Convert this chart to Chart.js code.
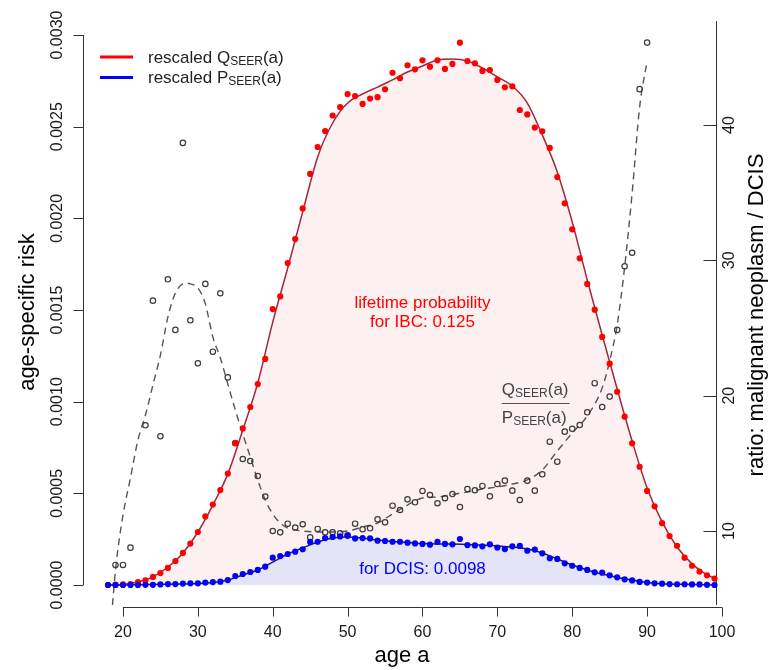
<!DOCTYPE html>
<html>
<head>
<meta charset="utf-8">
<script src="https://cdn.jsdelivr.net/npm/chart.js@4.4.1/dist/chart.umd.min.js"></script>
<style>
  body { margin: 0; background: #fff; }
  #wrap { width: 768px; height: 670px; position: relative; }
</style>
</head>
<body>
<div id="wrap"><canvas id="riskChart"></canvas></div>
<script>
// ages 18..99, one value per year
var ages = [18,19,20,21,22,23,24,25,26,27,28,29,30,31,32,33,34,35,36,37,38,39,40,41,42,43,44,45,46,47,48,49,50,51,52,53,54,55,56,57,58,59,
  60,61,62,63,64,65,66,67,68,69,70,71,72,73,74,75,76,77,78,79,80,81,82,83,84,85,86,87,88,89,90,91,92,93,94,95,96,97,98,99];

// rescaled Q_SEER(a) - red dots
var qSeer = [0,0.000002,0.000003,0.000005,0.000016,0.000025,0.000044,0.000065,0.000093,0.000131,0.000175,0.000226,
  0.000289,0.000374,0.000439,0.000518,0.000608,0.000775,0.000854,0.000971,0.001096,0.001233,
  0.001505,0.001574,0.001756,0.001887,0.002054,0.002242,0.002389,0.002476,0.002561,0.002607,
  0.002678,0.002667,0.002624,0.002653,0.002661,0.002704,0.002794,0.002764,0.002835,0.002813,
  0.002862,0.002827,0.002862,0.002815,0.002842,0.002958,0.002858,0.002846,0.002804,0.002809,
  0.002755,0.002715,0.002720,0.002591,0.002567,0.002495,0.002475,0.002384,0.002225,0.002082,
  0.001940,0.001782,0.001642,0.001502,0.001353,0.001207,0.001054,0.000918,0.000773,0.000645,
  0.000513,0.000429,0.000337,0.000267,0.000214,0.000149,0.000105,0.000073,0.000053,0.000035];

// rescaled P_SEER(a) - blue dots
var pSeer = [0,0,0,0,0,0.000001,0.000001,0.000003,0.000005,0.000005,0.000008,0.000009,
  0.000009,0.000013,0.000016,0.000018,0.000027,0.000049,0.000060,0.000071,0.000082,0.000100,
  0.000149,0.000158,0.000169,0.000182,0.000195,0.000235,0.000236,0.000256,0.000262,0.000265,
  0.000269,0.000254,0.000256,0.000254,0.000242,0.000240,0.000236,0.000236,0.000231,0.000227,
  0.000224,0.000220,0.000235,0.000224,0.000222,0.000251,0.000218,0.000216,0.000211,0.000222,
  0.000204,0.000196,0.000211,0.000213,0.000187,0.000193,0.000173,0.000146,0.000142,0.000118,
  0.000105,0.000093,0.000082,0.000069,0.000067,0.000053,0.000042,0.000031,0.000025,0.000017,
  0.000013,0.000009,0.000007,0.000005,0.000004,0.000004,0.000003,0.000003,0.000001,0];

// smoothed curves
var qFitAges = [18,20,22,24,26,28,30,32,34,36,38,40,42,44,46,48,50,52,54,56,58,60,62,64,66,68,70,72,74,76,78,80,82,84,86,88,90,92,94,96,98,99];
var qFit = [0,0.000003,0.000016,0.000044,0.000098,0.000175,0.000289,0.000436,0.000606,0.000845,0.001102,0.001434,
  0.001729,0.002035,0.002335,0.002520,0.002629,0.002678,0.002716,0.002755,0.002798,0.002831,0.002864,0.002869,
  0.002858,0.002820,0.002771,0.002722,0.002629,0.002455,0.002253,0.001980,0.001664,0.001364,0.001069,0.000785,
  0.000529,0.000344,0.000207,0.000115,0.000055,0.000038];

var pFitAges = [18,22,26,30,32,34,36,38,40,42,44,46,48,50,52,54,56,58,60,62,64,66,68,70,72,74,76,78,80,82,84,86,88,90,92,95,99];
var pFit = [0,0.000001,0.000004,0.000008,0.000013,0.000027,0.000055,0.000082,0.000125,0.000169,0.000202,0.000235,
  0.000256,0.000262,0.000256,0.000245,0.000237,0.000232,0.000226,0.000224,0.000224,0.000221,0.000218,0.000213,
  0.000207,0.000196,0.000175,0.000142,0.000109,0.000082,0.000060,0.000041,0.000027,0.000014,0.000007,0.000004,0];

// ratio Q/P (right axis) - open circles, age 22 missing
var ratioAges = [19,20,21,22,23,24,25,26,27,28,29,30,31,32,33,34,35,36,37,38,39,40,41,42,43,44,45,46,47,48,49,50,51,52,53,54,
  55,56,57,58,59,60,61,62,63,64,65,66,67,68,69,70,71,72,73,74,75,76,77,78,79,80,81,82,83,84,85,86,87,88,89,90];
var ratio = [7.49,7.49,8.77,null,17.81,27.02,17.0,28.60,24.86,38.68,25.57,22.39,28.26,23.25,27.57,21.35,16.48,15.32,15.17,14.06,12.55,
  10.0,9.90,10.54,10.26,10.50,9.53,10.15,9.90,9.90,9.83,9.68,10.54,10.13,10.20,10.86,
  10.64,11.87,11.55,12.34,12.12,12.96,12.66,12.05,12.42,12.73,11.77,13.10,13.01,13.33,12.56,
  13.47,13.72,12.98,12.29,13.72,12.98,14.19,16.60,15.12,17.34,17.55,17.83,18.77,20.92,19.16,19.93,
  24.86,29.56,30.56,42.65,46.09];

var ratioFitAges = [18.6,19,20,21,22,23,24,25,26,27,28,28.5,29,30,31,32,33,34,35,36,37,38,39,40,41,42,44,46,48,50,52,54,56,58,
  60,62,64,66,68,70,72,74,76,78,80,82,84,85,86,87,88,89,90];
var ratioFit = [4.53,7.12,11.18,13.92,16.73,18.57,20.79,23.0,25.82,27.59,28.26,28.31,28.26,27.96,26.78,24.34,22.79,20.86,18.94,
  17.17,15.47,13.77,12.29,11.26,10.59,10.22,10.0,9.93,9.93,10.0,10.30,10.59,11.26,11.92,
  12.44,12.51,12.70,12.88,13.10,13.25,13.47,13.77,14.51,15.91,17.24,18.50,20.57,22.57,25.23,29.51,34.98,41.33,44.73];

// axis ticks
var ageTicks = [20,30,40,50,60,70,80,90,100];
var riskTicks = [0,0.0005,0.0010,0.0015,0.0020,0.0025,0.0030];
var riskTickLabels = ['0.0000','0.0005','0.0010','0.0015','0.0020','0.0025','0.0030'];
var ratioTicks = [10,20,30,40];

var FONT = '"Liberation Sans", Arial, Helvetica, sans-serif';

function pairs(xs, ys) {
    return xs.map(function (x, i) { return { x: x, y: ys[i] }; });
}

// text with a subscript, parts = [[text, size, dy], ...]
function drawParts(ctx, parts, x, y, align) {
    var widths = parts.map(function (p) {
        ctx.font = p[1] + 'px ' + FONT;
        return ctx.measureText(p[0]).width;
    });
    var total = widths.reduce(function (a, b) { return a + b; }, 0);
    var cx = align === 'center' ? x - total / 2 : x;
    ctx.textAlign = 'left';
    ctx.textBaseline = 'alphabetic';
    parts.forEach(function (p, i) {
        ctx.font = p[1] + 'px ' + FONT;
        ctx.fillText(p[0], cx, y + p[2]);
        cx += widths[i];
    });
    return total;
}

function rotatedText(ctx, text, x, y) {
    ctx.save();
    ctx.translate(x, y);
    ctx.rotate(-Math.PI / 2);
    ctx.textAlign = 'center';
    ctx.textBaseline = 'middle';
    ctx.fillText(text, 0, 0);
    ctx.restore();
}

// R style axes: lines only over the tick range
var axesPlugin = {
    id: 'rAxes',
    beforeDatasetsDraw: function (chart) {
        var ctx = chart.ctx, area = chart.chartArea;
        var xs = chart.scales.x, ys = chart.scales.y, yr = chart.scales.yR;
        ctx.save();
        ctx.strokeStyle = '#333';
        ctx.lineWidth = 1;
        ctx.fillStyle = '#1a1a1a';

        // bottom axis
        var by = Math.round(area.bottom) + 0.5;
        ctx.beginPath();
        ctx.moveTo(xs.getPixelForValue(ageTicks[0]), by);
        ctx.lineTo(xs.getPixelForValue(ageTicks[ageTicks.length - 1]), by);
        ageTicks.forEach(function (t) {
            var px = Math.round(xs.getPixelForValue(t)) + 0.5;
            ctx.moveTo(px, by);
            ctx.lineTo(px, by + 9);
        });
        ctx.stroke();
        ctx.font = '16px ' + FONT;
        ctx.textAlign = 'center';
        ctx.textBaseline = 'middle';
        ageTicks.forEach(function (t) {
            ctx.fillText(String(t), xs.getPixelForValue(t), by + 25);
        });

        // left axis
        var lx = Math.round(area.left) + 0.5;
        ctx.beginPath();
        ctx.moveTo(lx, ys.getPixelForValue(riskTicks[0]));
        ctx.lineTo(lx, ys.getPixelForValue(riskTicks[riskTicks.length - 1]));
        riskTicks.forEach(function (t) {
            var py = Math.round(ys.getPixelForValue(t)) + 0.5;
            ctx.moveTo(lx, py);
            ctx.lineTo(lx - 10, py);
        });
        ctx.stroke();
        riskTicks.forEach(function (t, i) {
            rotatedText(ctx, riskTickLabels[i], lx - 26, ys.getPixelForValue(t));
        });

        // right axis, ticks point inward
        var rx = Math.round(xs.getPixelForValue(100)) - 5.5;
        ctx.beginPath();
        ctx.moveTo(rx, area.top + 8);
        ctx.lineTo(rx, area.bottom - 2);
        ratioTicks.forEach(function (t) {
            var py = Math.round(yr.getPixelForValue(t)) + 0.5;
            ctx.moveTo(rx, py);
            ctx.lineTo(rx - 13, py);
        });
        ctx.stroke();
        ratioTicks.forEach(function (t) {
            rotatedText(ctx, String(t), rx + 13, yr.getPixelForValue(t));
        });

        // axis titles
        ctx.fillStyle = '#000';
        ctx.font = '22px ' + FONT;
        rotatedText(ctx, 'age-specific risk', 28, 312);
        rotatedText(ctx, 'ratio: malignant neoplasm / DCIS', 757, 315);
        ctx.textAlign = 'center';
        ctx.textBaseline = 'middle';
        ctx.fillText('age a', 402, 656);
        ctx.restore();
    },
    afterDraw: function (chart) {
        var ctx = chart.ctx;
        var xs = chart.scales.x, ys = chart.scales.y;
        ctx.save();

        // legend
        ctx.lineWidth = 3;
        ctx.strokeStyle = '#ff0000';
        ctx.beginPath(); ctx.moveTo(100, 57); ctx.lineTo(133, 57); ctx.stroke();
        ctx.strokeStyle = '#0000ff';
        ctx.beginPath(); ctx.moveTo(100, 77.5); ctx.lineTo(133, 77.5); ctx.stroke();
        ctx.fillStyle = '#222';
        drawParts(ctx, [['rescaled Q', 17, 0], ['SEER', 12, 1.5], ['(a)', 17, 0]], 148, 63, 'left');
        drawParts(ctx, [['rescaled P', 17, 0], ['SEER', 12, 1.5], ['(a)', 17, 0]], 148, 83, 'left');

        // lifetime probabilities
        var cx = xs.getPixelForValue(60);
        ctx.fillStyle = '#ff0000';
        ctx.font = '17px ' + FONT;
        ctx.textAlign = 'center';
        ctx.textBaseline = 'alphabetic';
        ctx.fillText('lifetime probability', cx, ys.getPixelForValue(0.001510));
        ctx.fillText('for IBC: 0.125', cx, ys.getPixelForValue(0.001405));
        ctx.fillStyle = '#0000ff';
        ctx.fillText('for DCIS: 0.0098', cx, ys.getPixelForValue(0.0000600));

        // ratio label as a fraction
        var fx = xs.getPixelForValue(70.6);
        ctx.fillStyle = '#444';
        var w = drawParts(ctx, [['Q', 17, 0], ['SEER', 12, 1.5], ['(a)', 17, 0]], fx, 395, 'left');
        drawParts(ctx, [['P', 17, 0], ['SEER', 12, 1.5], ['(a)', 17, 0]], fx, 423, 'left');
        ctx.strokeStyle = '#555';
        ctx.lineWidth = 1.2;
        ctx.beginPath(); ctx.moveTo(fx, 403.5); ctx.lineTo(fx + w + 1, 403.5); ctx.stroke();
        ctx.restore();
    }
};

var ctx = document.getElementById('riskChart').getContext('2d');
var riskChart = new Chart(ctx, {
    type: 'line',
    data: {
        datasets: [{
            label: 'Q fit',
            data: pairs(qFitAges, qFit),
            borderColor: '#a0283a',
            borderWidth: 1.5,
            backgroundColor: '#fdf0f0',
            fill: 'origin',
            pointRadius: 0,
            cubicInterpolationMode: 'monotone',
            order: 6
        }, {
            label: 'P fit',
            data: pairs(pFitAges, pFit),
            borderColor: '#1c1c6b',
            borderWidth: 1.5,
            backgroundColor: '#e4e4f6',
            fill: 'origin',
            pointRadius: 0,
            cubicInterpolationMode: 'monotone',
            order: 5
        }, {
            label: 'ratio fit',
            data: pairs(ratioFitAges, ratioFit),
            yAxisID: 'yR',
            borderColor: '#555',
            borderWidth: 1.4,
            borderDash: [7, 5],
            fill: false,
            pointRadius: 0,
            cubicInterpolationMode: 'monotone',
            order: 4
        }, {
            label: 'ratio',
            data: pairs(ratioAges, ratio),
            yAxisID: 'yR',
            showLine: false,
            pointRadius: 2.7,
            pointBorderWidth: 1.2,
            pointBorderColor: '#3a3a3a',
            pointBackgroundColor: 'rgba(0,0,0,0)',
            order: 3
        }, {
            label: 'rescaled Q',
            data: pairs(ages, qSeer),
            showLine: false,
            pointRadius: 3.1,
            pointBorderWidth: 0,
            pointBackgroundColor: '#ff0000',
            order: 2
        }, {
            label: 'rescaled P',
            data: pairs(ages, pSeer),
            showLine: false,
            pointRadius: 3.1,
            pointBorderWidth: 0,
            pointBackgroundColor: '#0000ff',
            order: 1
        }]
    },
    options: {
        responsive: true,
        maintainAspectRatio: false,
        animation: false,
        layout: { padding: { left: 83, top: 13, right: 21, bottom: 63 } },
        plugins: {
            legend: { display: false },
            tooltip: { enabled: false }
        },
        scales: {
            x: { type: 'linear', min: 14.66, max: 103.34, display: false },
            y: { type: 'linear', min: -0.00012, max: 0.00312, display: false },
            yR: { type: 'linear', position: 'right', min: 4.384, max: 48.277, display: false }
        }
    },
    plugins: [axesPlugin]
});
</script>
</body>
</html>
